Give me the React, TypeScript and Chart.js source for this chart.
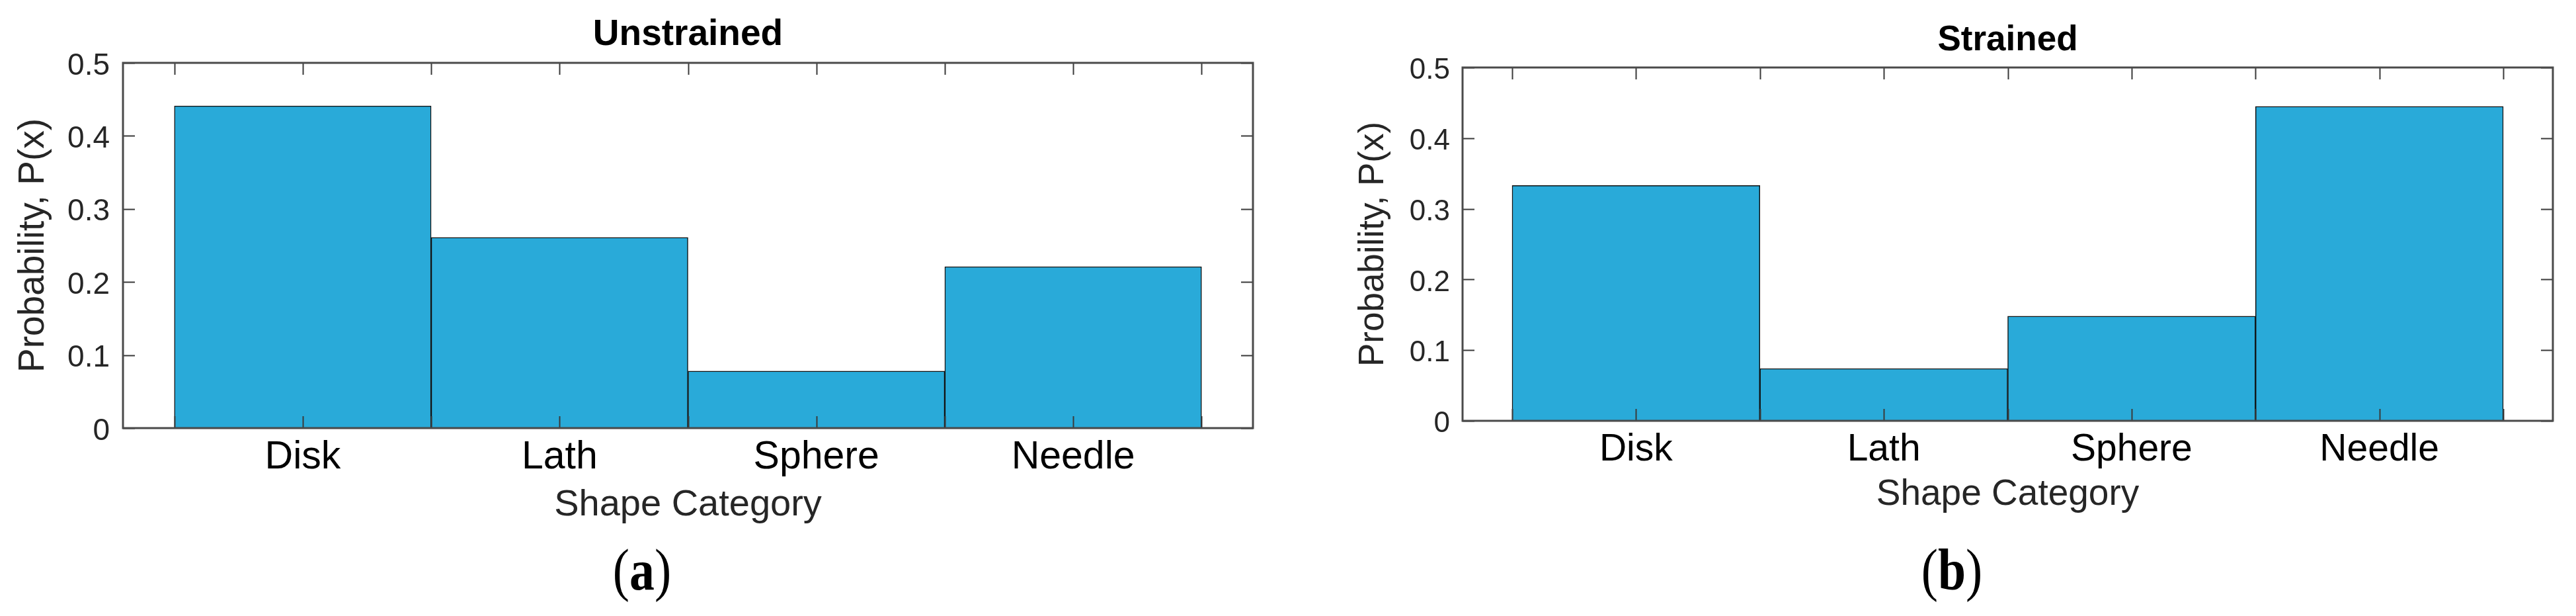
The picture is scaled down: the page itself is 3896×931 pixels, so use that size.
import React, { useEffect, useRef } from 'react';
import { Chart, registerables } from 'chart.js';

Chart.register(...registerables);

// ---- data ----
const categories = ['Disk', 'Lath', 'Sphere', 'Needle'];
const unstrainedValues = [0.441, 0.261, 0.078, 0.221];
const strainedValues = [0.333, 0.074, 0.148, 0.445];
const yTickValues = [0, 0.1, 0.2, 0.3, 0.4, 0.5];
const yTickLabels = ['0', '0.1', '0.2', '0.3', '0.4', '0.5'];
const xTickMarks = [0.5, 1, 1.5, 2, 2.5, 3, 3.5, 4, 4.5];
const xRange = [0.3, 4.7];
const titles = ['Unstrained', 'Strained'];
const panelLetters = ['a', 'b'];
const xAxisTitle = 'Shape Category';
const yAxisTitle = 'Probability, P(x)';

const SANS = "'Liberation Sans', Arial, Helvetica, sans-serif";
const BAR_COLOR = '#29aad9';

const framePlugin = {
  id: 'matlabFrame',
  afterDatasetsDraw(chart: any) {
    const { ctx, chartArea, scales } = chart;
    const { left, right, top, bottom } = chartArea;
    const x = scales.x;
    const y = scales.y;
    const tl = 18;
    ctx.save();
    ctx.strokeStyle = '#3a3a3a';
    ctx.lineWidth = 2;
    ctx.beginPath();
    for (const v of xTickMarks) {
      const px = Math.round(x.getPixelForValue(v)) + 0.5;
      ctx.moveTo(px, bottom);
      ctx.lineTo(px, bottom - tl);
      ctx.moveTo(px, top);
      ctx.lineTo(px, top + tl);
    }
    for (const v of yTickValues) {
      const py = Math.round(y.getPixelForValue(v)) + 0.5;
      ctx.moveTo(left, py);
      ctx.lineTo(left + tl, py);
      ctx.moveTo(right, py);
      ctx.lineTo(right - tl, py);
    }
    ctx.stroke();
    ctx.strokeStyle = '#4a4a4a';
    ctx.lineWidth = 3;
    ctx.strokeRect(left, top, right - left, bottom - top);
    ctx.restore();
  },
};

type Spec = {
  canvasLeft: number;
  canvasWidth: number;
  padRight: number;
  padBottom: number;
  yAxisWidth: number;
  xAxisHeight: number;
  titleFont: number;
  titlePadTop: number;
  titlePadBottom: number;
  yTitleFont: number;
  yTitlePad: number;
  yTickFont: number;
  yTickPad: number;
  xTickFont: number;
  xTickPad: number;
  xTitleFont: number;
  xTitlePad: number;
  letterLeft: number;
};

const specs: Spec[] = [
  {
    canvasLeft: 0, canvasWidth: 1942, padRight: 47, padBottom: 134,
    yAxisWidth: 186, xAxisHeight: 150,
    titleFont: 55, titlePadTop: 20, titlePadBottom: 9,
    yTitleFont: 55, yTitlePad: 18,
    yTickFont: 46, yTickPad: 20,
    xTickFont: 59, xTickPad: 9.6,
    xTitleFont: 56, xTitlePad: 0,
    letterLeft: 971,
  },
  {
    canvasLeft: 1950, canvasWidth: 1946, padRight: 35, padBottom: 145,
    yAxisWidth: 262, xAxisHeight: 150,
    titleFont: 53, titlePadTop: 30, titlePadBottom: 8.4,
    yTitleFont: 53, yTitlePad: 96,
    yTickFont: 44, yTickPad: 19,
    xTickFont: 57, xTickPad: 10.4,
    xTitleFont: 55, xTitlePad: 5,
    letterLeft: 2952,
  },
];

function Panel({ idx, values }: { idx: number; values: number[] }) {
  const ref = useRef<HTMLCanvasElement | null>(null);
  const s = specs[idx];
  useEffect(() => {
    if (!ref.current) return;
    const chart = new Chart(ref.current, {
      type: 'bar',
      data: {
        datasets: [
          {
            data: values.map((v, i) => ({ x: i + 1, y: v })),
            backgroundColor: BAR_COLOR,
            borderColor: '#111111',
            borderWidth: 1.5,
            barPercentage: 1,
            categoryPercentage: 1,
          } as any,
        ],
      },
      options: {
        animation: false,
        responsive: false,
        devicePixelRatio: 1,
        layout: { padding: { left: 0, top: 0, right: s.padRight, bottom: s.padBottom } },
        plugins: {
          legend: { display: false },
          tooltip: { enabled: false },
          title: {
            display: true,
            text: titles[idx],
            fullSize: false,
            color: '#000000',
            font: { family: SANS, size: s.titleFont, weight: 'bold', lineHeight: 1.2 },
            padding: { top: s.titlePadTop, bottom: s.titlePadBottom },
          },
        },
        scales: {
          x: {
            type: 'linear',
            min: xRange[0],
            max: xRange[1],
            offset: false,
            grid: { display: false, drawTicks: false },
            border: { display: false },
            afterBuildTicks: (scale: any) => {
              scale.ticks = categories.map((_, i) => ({ value: i + 1 }));
            },
            afterFit: (scale: any) => {
              scale.height = s.xAxisHeight;
            },
            ticks: {
              autoSkip: false,
              maxRotation: 0,
              padding: s.xTickPad,
              color: '#000000',
              font: { family: SANS, size: s.xTickFont },
              callback: (v: any) => categories[Math.round(Number(v)) - 1] ?? '',
            },
            title: {
              display: true,
              text: xAxisTitle,
              color: '#262626',
              font: { family: SANS, size: s.xTitleFont, lineHeight: 1.2 },
              padding: { top: 0, bottom: s.xTitlePad },
            },
          },
          y: {
            type: 'linear',
            min: 0,
            max: 0.5,
            grid: { display: false, drawTicks: false },
            border: { display: false },
            afterBuildTicks: (scale: any) => {
              scale.ticks = yTickValues.map((v) => ({ value: v }));
            },
            afterFit: (scale: any) => {
              scale.width = s.yAxisWidth;
            },
            ticks: {
              padding: s.yTickPad,
              labelOffset: 5,
              color: '#262626',
              font: { family: SANS, size: s.yTickFont },
              callback: (v: any) => {
                const k = yTickValues.findIndex((t) => Math.abs(t - Number(v)) < 1e-9);
                return k >= 0 ? yTickLabels[k] : '';
              },
            },
            title: {
              display: true,
              text: yAxisTitle,
              color: '#262626',
              font: { family: SANS, size: s.yTitleFont, lineHeight: 1.2 },
              padding: { top: s.yTitlePad, bottom: 0 },
            },
          },
        },
      } as any,
      plugins: [framePlugin],
    });
    return () => chart.destroy();
  }, [idx, values]);

  return (
    <>
      <canvas
        ref={ref}
        width={s.canvasWidth}
        height={931}
        style={{ position: 'absolute', left: s.canvasLeft, top: 0, width: s.canvasWidth, height: 931 }}
      />
      <div
        style={{
          position: 'absolute',
          left: s.letterLeft - 150,
          width: 300,
          top: 818,
          textAlign: 'center',
          fontFamily: "'Liberation Serif', 'Times New Roman', serif",
          fontSize: 88,
          lineHeight: 1,
          color: '#000',
          transform: 'scaleX(0.86)',
        }}
      >
        (<b>{panelLetters[idx]}</b>)
      </div>
    </>
  );
}

export default function App() {
  return (
    <div
      style={{
        position: 'absolute',
        left: 0,
        top: 0,
        width: 3896,
        height: 931,
        background: '#ffffff',
        overflow: 'hidden',
      }}
    >
      <Panel idx={0} values={unstrainedValues} />
      <Panel idx={1} values={strainedValues} />
    </div>
  );
}
